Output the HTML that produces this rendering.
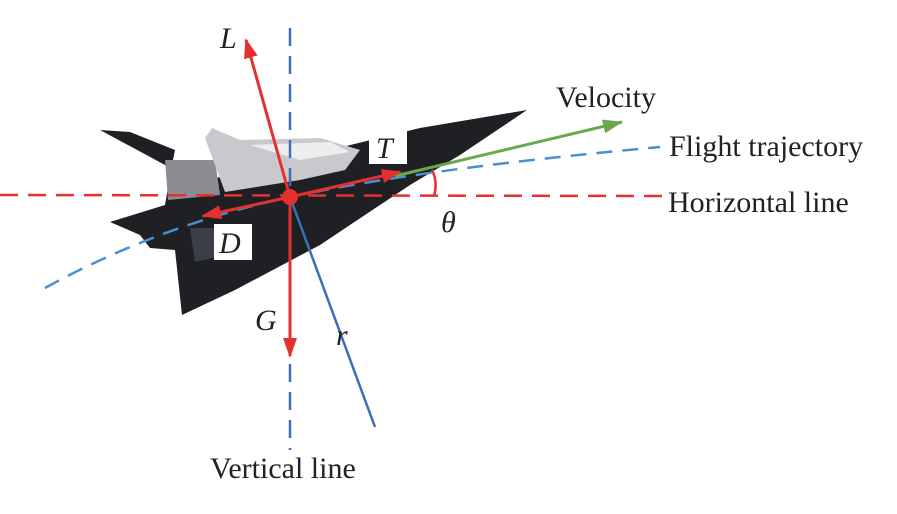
<html><body style="margin:0;background:#fff">
<svg width="897" height="514" viewBox="0 0 897 514" xmlns="http://www.w3.org/2000/svg">
<defs>
<marker id="ar2" markerWidth="20" markerHeight="14" refX="18" refY="7" orient="auto" markerUnits="userSpaceOnUse"><path d="M0,0 L20,7 L0,14z" fill="#e53030"/></marker>
<marker id="ag" markerWidth="20" markerHeight="14" refX="19" refY="7" orient="auto" markerUnits="userSpaceOnUse"><path d="M0,0 L20,7 L0,14z" fill="#6aa84f"/></marker>
</defs>
<!-- plane -->
<polygon points="527,110 420,128 330,150 290,175 200,178 165,165 100,130 130,132 175,150 170,175 165,205 110,222 140,235 150,248 175,250 182,315 235,290 320,245 410,185 460,155" fill="#1e2024"/>
<polygon points="165,160 215,160 220,195 168,200" fill="#8b8d92"/>
<polygon points="205,138 212,128 240,140 320,138 360,150 345,170 300,180 225,192" fill="#c9c9cd"/>
<polygon points="250,145 330,142 350,152 300,160" fill="#eee"/>
<polygon points="190,228 215,228 245,250 195,262" fill="#3b3e44"/>
<!-- lines -->
<line x1="0" y1="195" x2="665" y2="196" stroke="#e53030" stroke-width="2.5" stroke-dasharray="18,10"/>
<line x1="290" y1="28" x2="290" y2="450" stroke="#3c6fb8" stroke-width="2.5" stroke-dasharray="18,10"/>
<path d="M45,288 Q160,225 290,197 T660,147" fill="none" stroke="#4a8fcf" stroke-width="2.5" stroke-dasharray="16,10"/>
<line x1="290" y1="197" x2="375" y2="427" stroke="#3c6fb8" stroke-width="2.5"/>
<line x1="395" y1="176" x2="622" y2="122" stroke="#6aa84f" stroke-width="3" marker-end="url(#ag)"/>
<path d="M432,170 Q438,182 434,196" fill="none" stroke="#e53030" stroke-width="2.5"/>
<line x1="290" y1="197" x2="400" y2="172" stroke="#e53030" stroke-width="3" marker-end="url(#ar2)"/>
<line x1="290" y1="197" x2="203" y2="216" stroke="#e53030" stroke-width="3" marker-end="url(#ar2)"/>
<line x1="290" y1="197" x2="246" y2="40" stroke="#e53030" stroke-width="3" marker-end="url(#ar2)"/>
<line x1="290" y1="197" x2="290" y2="356" stroke="#e53030" stroke-width="3" marker-end="url(#ar2)"/>
<circle cx="290" cy="197" r="8" fill="#e53030"/>
<rect x="369" y="128" width="38" height="36" fill="#fff"/>
<rect x="214" y="224" width="38" height="36" fill="#fff"/>
<g font-family="Liberation Serif, serif" font-size="30" fill="#222">
<text x="220" y="48" font-style="italic">L</text>
<text x="376" y="158" font-style="italic">T</text>
<text x="219" y="253" font-style="italic">D</text>
<text x="255" y="330" font-style="italic">G</text>
<text x="336" y="345" font-style="italic">r</text>
<text x="441" y="232" font-style="italic">θ</text>
<text x="556" y="107">Velocity</text>
<text x="669" y="156">Flight trajectory</text>
<text x="668" y="212">Horizontal line</text>
<text x="210" y="478">Vertical line</text>
</g>
</svg>
</body></html>
